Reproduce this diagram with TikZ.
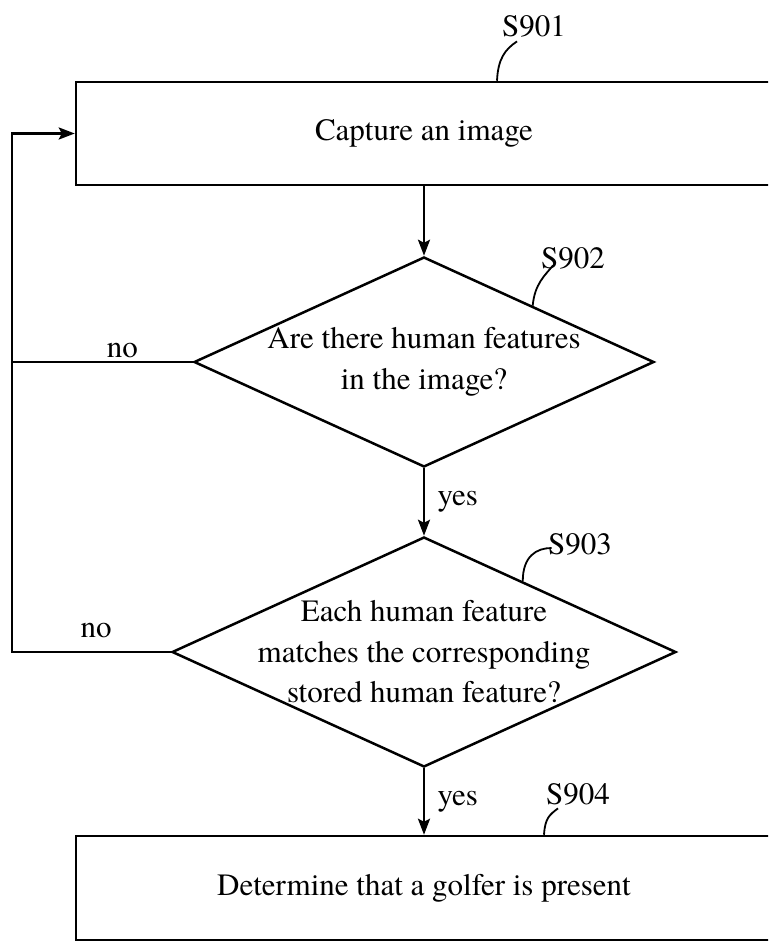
\documentclass[tikz,border=0pt]{standalone}
\usepackage{fontspec}
\setmainfont{TeX Gyre Termes}
\usepackage{tikz}
\usetikzlibrary{arrows.meta,shapes.geometric,calc}
\usetikzlibrary{positioning}
\tikzset{
    procbox/.style={
      rectangle,
      draw=black, line width=2.5pt,
      minimum width=696pt,
      inner sep=0pt,
      text centered,
    },
    decision/.style={
      diamond,
      draw=black, line width=2.5pt,
      inner sep=0pt,
    },
    leader/.style={-, line width=1.8pt},
}

\begin{document}
\begin{tikzpicture}[x=1pt,y=-1pt,->,>={Stealth[length=16pt,width=12pt,inset=3pt]},
    line width=2.5pt, font=\fontsize{31}{40.5}\selectfont]

    \path[-, use as bounding box, clip] (0,0) rectangle (768,941);

    \node[procbox, minimum height=103pt] (capture) at (424,133.5) {Capture an image};

    \node[decision, minimum width=460pt, minimum height=210pt] (human) at (424,362) {};
    \node[align=center] (humantext) at (human)
    {
      Are there human features \\
      in the image?
    };

    \node[decision, minimum width=504pt, minimum height=230pt] (match) at (424,652) {};
    \node[align=center] (matchtext) at (match)
    {
      Each human feature \\
      matches the corresponding \\
      stored human feature?
    };

    \node[procbox, minimum height=104pt] (golfer) at (424,888) {Determine that a golfer is present};

    % step numbers
    \node (s901) at (534,26) {S901};
    \node (s902) at (573,258) {S902};
    \node (s903) at (580,544) {S903};
    \node (s904) at (578,794) {S904};

    \draw[leader] ([xshift=73pt]capture.north) .. controls +(1,-22) and +(-12,8) .. ([xshift=-17pt]s901.south);
    \draw[leader] ($(human.north)!0.47!(human.east)$) .. controls +(2,-22) and +(-8,10) .. ([xshift=-20pt,yshift=8pt]s902.south);
    \draw[leader] ($(match.north)!0.39!(match.east)$) .. controls +(0,-25) and +(-15,0) .. ([xshift=8pt,yshift=-4pt]s903.west);
    \draw[leader] ([xshift=120pt]golfer.north) .. controls +(1,-17) and +(-8,6) .. ([xshift=-20pt,yshift=1pt]s904.south);

    \path

    (capture) edge (human)

    (human) edge node[right=9pt]{yes} (match)

    (match) edge node[right=9pt]{yes} (golfer)

    ;

    % loop back to the capture step
    \coordinate (back) at (12,135);
    \draw (match.west) -- node[-, above=10pt, pos=0.47]{no} (match.west -| back) |- (capture.west);
    \draw[-] (human.west) -- node[above, pos=0.39]{no} (human.west -| back);

\end{tikzpicture}
\end{document}
